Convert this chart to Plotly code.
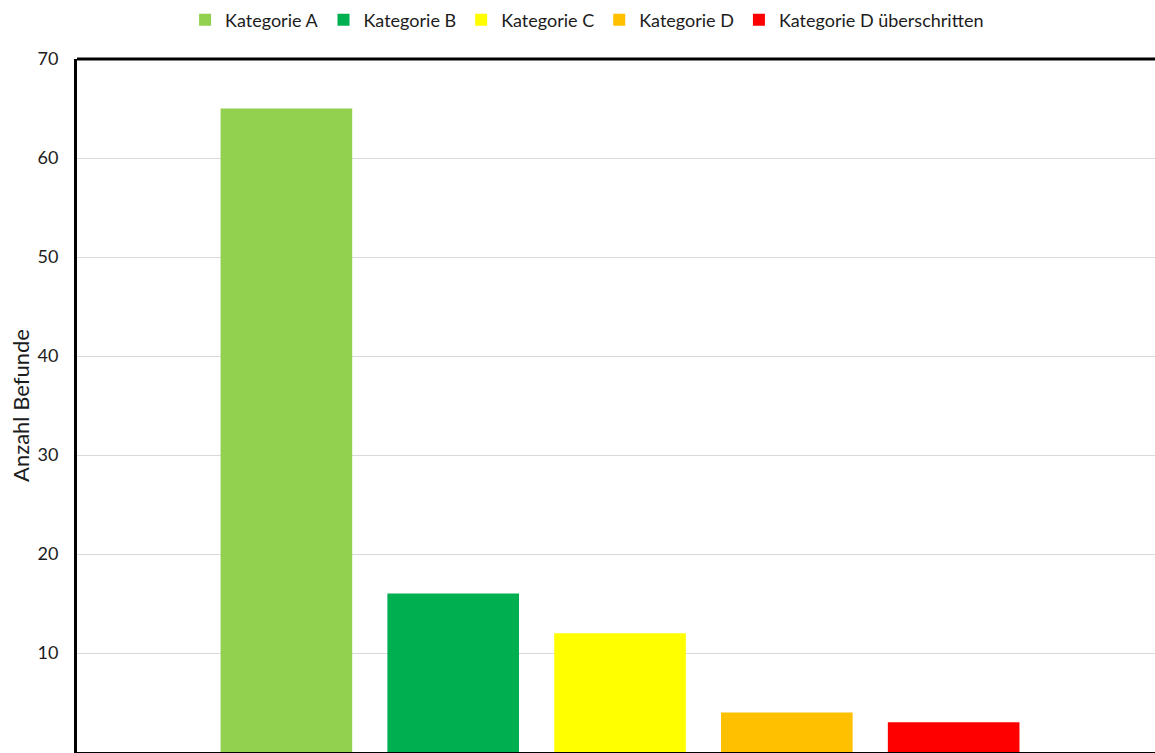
import plotly.graph_objects as go

categories = ["Kategorie A", "Kategorie B", "Kategorie C", "Kategorie D", "Kategorie D überschritten"]
values = [65, 16, 12, 4, 3]
colors = ["#92D050", "#00B050", "#FFFF00", "#FFC000", "#FF0000"]
group_label = ["Befunde"]
y_ticks = [0, 10, 20, 30, 40, 50, 60, 70]

FONT = "Lato, Carlito, Calibri, sans-serif"
TXT = "#1c1c1c"

fig = go.Figure()
for name, v, c in zip(categories, values, colors):
    fig.add_trace(go.Bar(name=name, x=group_label, y=[v], marker=dict(color=c, line=dict(width=0))))

fig.update_layout(
    width=1155, height=753,
    barmode="group", bargap=0.232, bargroupgap=0.211,
    plot_bgcolor="white", paper_bgcolor="white",
    margin=dict(l=77, r=0, t=59, b=1, autoexpand=False),
    font=dict(family=FONT, size=18, color=TXT),
    showlegend=True,
    legend=dict(orientation="h", xref="container", yref="container", x=0.5083, xanchor="center",
                y=0.9735, yanchor="middle", font=dict(size=18, color=TXT),
                traceorder="normal"),
    xaxis=dict(showticklabels=False, showgrid=False, showline=True, linecolor="black", linewidth=3,
               mirror=False, ticks="", automargin=False, range=[-0.5, 0.4926]),
    yaxis=dict(range=[0, 70], tickvals=y_ticks, showgrid=True, gridcolor="#D9D9D9", gridwidth=1,
               showline=True, linecolor="black", linewidth=3, ticks="", zeroline=False,
               automargin=False, ticklabelstandoff=12,
               title=dict(text="Anzahl Befunde", font=dict(size=22, color=TXT), standoff=2),
               tickfont=dict(size=18, color=TXT)),
)
# top border line
fig.add_shape(type="line", xref="paper", yref="paper", x0=0, x1=1, y0=1, y1=1,
              line=dict(color="black", width=3))

fig.write_html(
    "out.html",
    config={"displayModeBar": False},
    post_script="document.documentElement.style.margin='0';document.body.style.margin='0';"
                "document.documentElement.style.overflow='hidden';document.body.style.overflow='hidden';",
)
